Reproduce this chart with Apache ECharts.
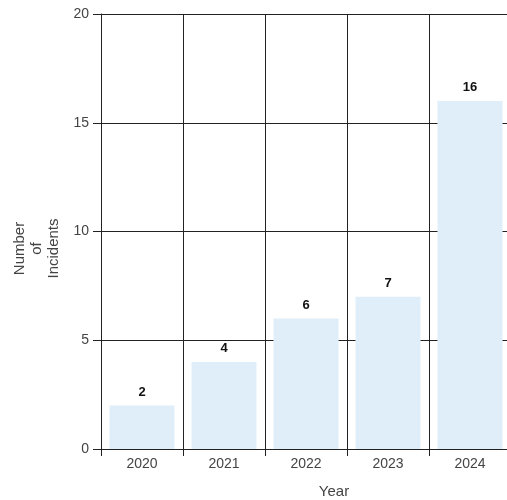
<!DOCTYPE html>
<html>
<head>
<meta charset="utf-8">
<script src="https://cdn.jsdelivr.net/npm/echarts@6/dist/echarts.min.js"></script>
<style>html,body{margin:0;padding:0;background:#fff;}#c{width:507px;height:500px;}</style>
</head>
<body>
<div id="c"></div>
<script>
var categories = ['2020', '2021', '2022', '2023', '2024'];
var incidents = [2, 4, 6, 7, 16];
var yTicks = [0, 5, 10, 15, 20];

var chart = echarts.init(document.getElementById('c'), null, {renderer: 'canvas'});
chart.setOption({
  animation: false,
  backgroundColor: '#ffffff',
  grid: {left: 101, top: 14, width: 410, height: 435, outerBoundsMode: 'none', containLabel: false},
  xAxis: {
    type: 'category',
    data: categories,
    name: 'Year',
    nameLocation: 'middle',
    nameGap: 35,
    nameTextStyle: {color: '#444', fontSize: 15, fontFamily: 'Liberation Sans', padding: [0, 0, 0, 56]},
    axisLine: {show: true, lineStyle: {color: '#222', width: 1}},
    axisTick: {show: true, length: 7, lineStyle: {color: '#222'}},
    axisLabel: {color: '#444', fontSize: 14, fontFamily: 'Liberation Sans', margin: 8},
    splitLine: {show: true, lineStyle: {color: '#222', width: 1}}
  },
  yAxis: {
    type: 'value',
    min: yTicks[0],
    max: yTicks[yTicks.length - 1],
    interval: 5,
    name: 'Number\nof\nIncidents',
    nameLocation: 'middle',
    nameRotate: 90,
    nameGap: 35,
    nameTextStyle: {color: '#444', fontSize: 15, fontFamily: 'Liberation Sans', lineHeight: 17, padding: [0, 34, 0, 0]},
    axisLine: {show: true, lineStyle: {color: '#222', width: 1}},
    axisTick: {show: true, length: 8, lineStyle: {color: '#222'}},
    axisLabel: {color: '#444', fontSize: 14, fontFamily: 'Liberation Sans', margin: 12},
    splitLine: {show: true, lineStyle: {color: '#222', width: 1}}
  },
  series: [{
    type: 'bar',
    data: incidents,
    barWidth: 65,
    itemStyle: {color: '#dfeef9'},
    label: {
      show: true,
      position: 'top',
      distance: 7,
      color: '#111',
      fontSize: 13,
      fontWeight: 'bold',
      fontFamily: 'Liberation Sans'
    }
  }]
});
</script>
</body>
</html>
